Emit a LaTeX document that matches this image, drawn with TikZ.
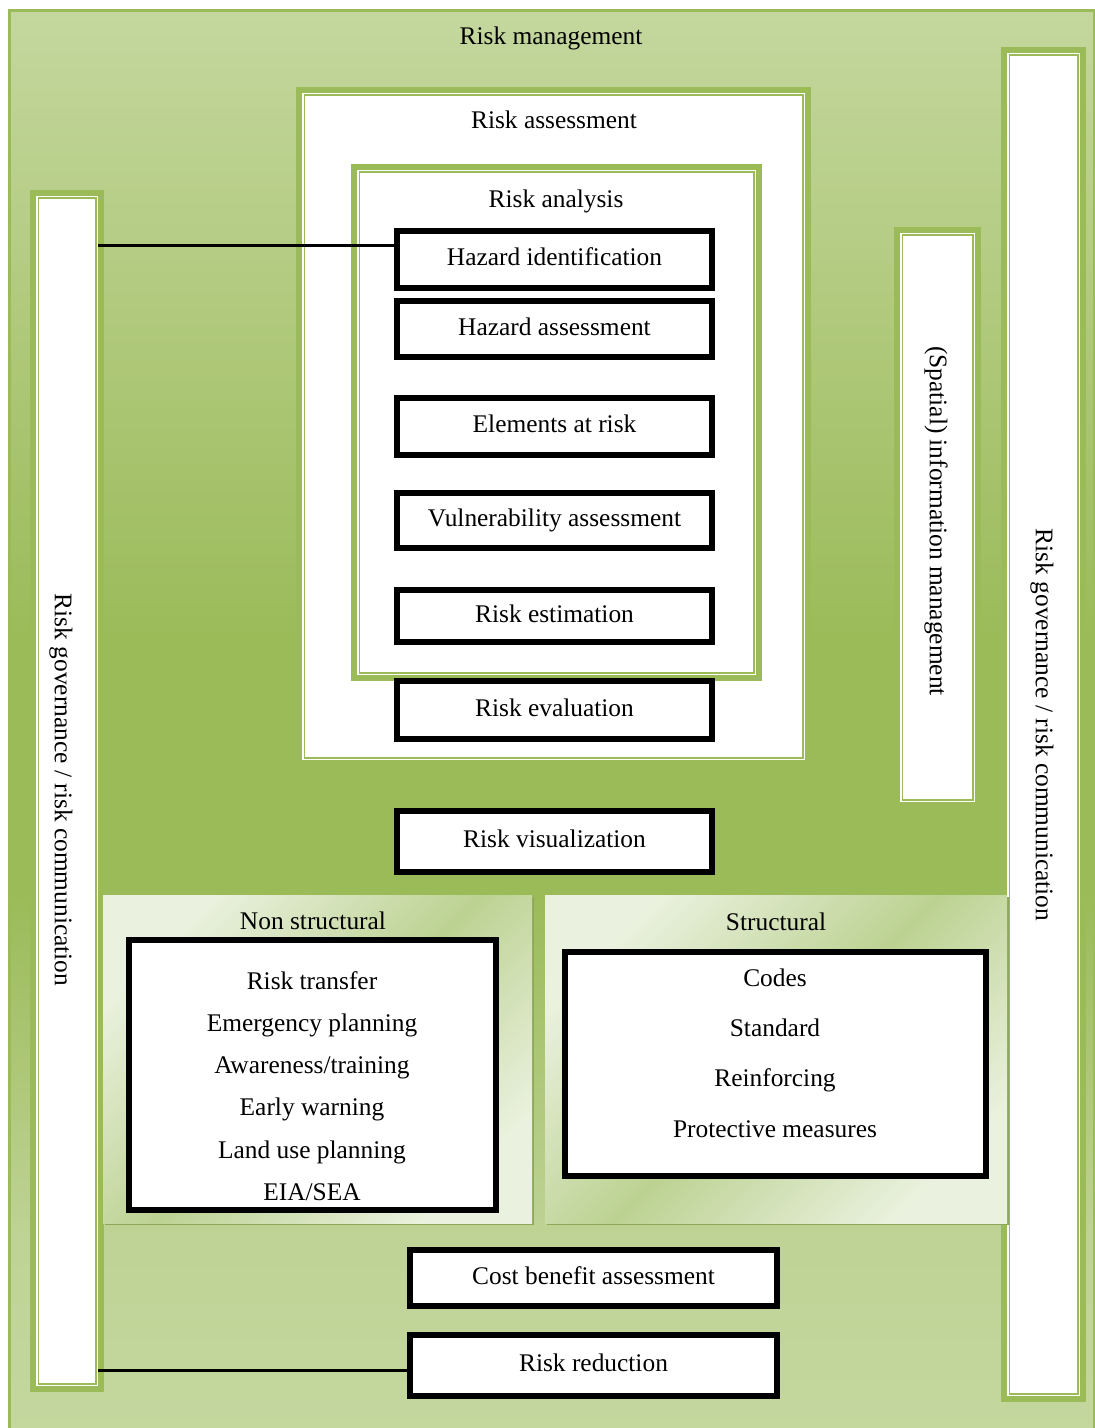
\documentclass[tikz,border=0pt]{standalone}
\usepackage{fontspec}
\setmainfont{Liberation Serif}
\usetikzlibrary{positioning,fit}

\definecolor{framegreen}{HTML}{9BBB59}
\definecolor{lightgreen}{HTML}{C4D79E}
\definecolor{lowgreen}{HTML}{BFD396}
\definecolor{panellight}{HTML}{EAF1DE}
\definecolor{panelmid}{HTML}{BCD292}
\definecolor{panelshadow}{HTML}{8DA856}

\pgfdeclareverticalshading{mgmtshade}{100bp}{color(0bp)=(lightgreen); color(25bp)=(lightgreen);
  color(32bp)=(lowgreen); color(44bp)=(framegreen); color(53bp)=(framegreen);
  color(75bp)=(lightgreen); color(100bp)=(lightgreen)}
\pgfdeclarehorizontalshading{panelshade}{100bp}{color(0bp)=(panellight); color(25bp)=(panellight);
  color(50bp)=(panelmid); color(75bp)=(panellight); color(100bp)=(panellight)}

\tikzset{
  riskbox/.style={draw=black, line width=3pt, fill=white, inner sep=0pt, outer sep=0pt,
    text height=0.7em, text depth=0.09em},
  panel/.style={shade, shading=panelshade, shading angle=-45, inner sep=0pt, outer sep=0pt,
    preaction={fill=panelshadow, transform canvas={shift={(1.2pt,-1.2pt)}}}},
  link/.style={draw=black, line width=1.5pt},
}

% green double frame: name, corner, corner
\newcommand{\greenframe}[3]{%
  \fill[framegreen] #2 rectangle #3;
  \node[inner sep=0pt, outer sep=0pt, fit={#2 #3}] (#1) {};
  \fill[white] ([shift={(6,6)}]#1.north west) rectangle ([shift={(-6,-6)}]#1.south east);
  \draw[framegreen, line width=0.75pt] ([shift={(8.25,8.25)}]#1.north west) rectangle ([shift={(-8.25,-8.25)}]#1.south east);
}

\begin{document}
\begin{tikzpicture}[x=0.5pt, y=-0.5pt, font=\fontsize{12.7}{15.2}\selectfont]
  \useasboundingbox (0,0) rectangle (1095,1428);

  % Risk management
  \shade[shading=mgmtshade] (9,11) rectangle (1094,1440);
  \draw[framegreen, line width=1.5pt] (9,11) rectangle (1094,1440);
  \node (mgmt) at (551,38) {Risk management};

  % side bars
  \greenframe{leftbar}{(30,190)}{(104,1392)}
  \node[rotate=-90] (leftlabel) at (61,790) {Risk governance / risk communication};
  \greenframe{rightbar}{(1001,47)}{(1086,1402)}
  \node[rotate=-90] (rightlabel) at (1042,725) {Risk governance / risk communication};
  \greenframe{infobar}{(894,227)}{(981,808)}
  \node[rotate=-90] (infolabel) at (936,521) {(Spatial) information management};

  % Risk assessment and Risk analysis
  \greenframe{assess}{(296,87)}{(811,766)}
  \node (assesstitle) at (554,120) {Risk assessment};
  \greenframe{analysis}{(351,164)}{(762,681)}
  \node (analysistitle) at (556,201) {Risk analysis};

  \node[riskbox, minimum width=157.5pt, minimum height=28.5pt] (hazid) at (554.5,259.5) {Hazard identification};
  \node[riskbox, minimum width=157.5pt, minimum height=28pt] (hazass) at (554.5,329) {Hazard assessment};
  \node[riskbox, minimum width=157.5pt, minimum height=28.5pt] (elements) at (554.5,426.5) {Elements at risk};
  \node[riskbox, minimum width=157.5pt, minimum height=27.5pt] (vulner) at (554.5,520.5) {Vulnerability assessment};
  \node[riskbox, minimum width=157.5pt, minimum height=26pt] (estim) at (554.5,616) {Risk estimation};
  \node[riskbox, minimum width=157.5pt, minimum height=29pt] (evalu) at (554.5,710) {Risk evaluation};
  \node[riskbox, minimum width=157.5pt, minimum height=30.5pt] (visual) at (554.5,841.5) {Risk visualization};

  % measures
  \node[panel, minimum width=214.5pt, minimum height=164pt] (nonstruct) at (317.5,1059) {};
  \node (nonstructtitle) at (313,921) {Non structural};
  \node[riskbox, minimum width=183.5pt, minimum height=135pt] (nsbox) at (312.5,1075) {};
  \node[align=center, font=\fontsize{12.7}{21.1}\selectfont] (nslist) at (312,1086)
    {Risk transfer\\Emergency planning\\Awareness/training\\Early warning\\Land use planning\\EIA/SEA};

  \node[panel, minimum width=231pt, minimum height=164pt] (struct) at (776,1059) {};
  \node (structtitle) at (776,922) {Structural};
  \node[riskbox, minimum width=210.5pt, minimum height=112pt] (sbox) at (775.5,1064) {};
  \node[align=center, font=\fontsize{12.7}{25.15}\selectfont] (slist) at (775,1053)
    {Codes\\Standard\\Reinforcing\\Protective measures};

  \node[riskbox, minimum width=183.5pt, minimum height=28pt] (costben) at (593.5,1278) {Cost benefit assessment};
  \node[riskbox, minimum width=183.5pt, minimum height=30.5pt] (reduct) at (593.5,1365.5) {Risk reduction};

  % Draw the links from the left bar
  \coordinate (hazlink) at ([yshift=6.75pt]hazid.west);
  \coordinate (redlink) at ([yshift=-2.25pt]reduct.west);
  \draw[link] ([xshift=-3pt]hazlink -| leftbar.east) -- (hazlink);
  \draw[link] ([xshift=-3pt]redlink -| leftbar.east) -- (redlink);

\end{tikzpicture}
\end{document}
